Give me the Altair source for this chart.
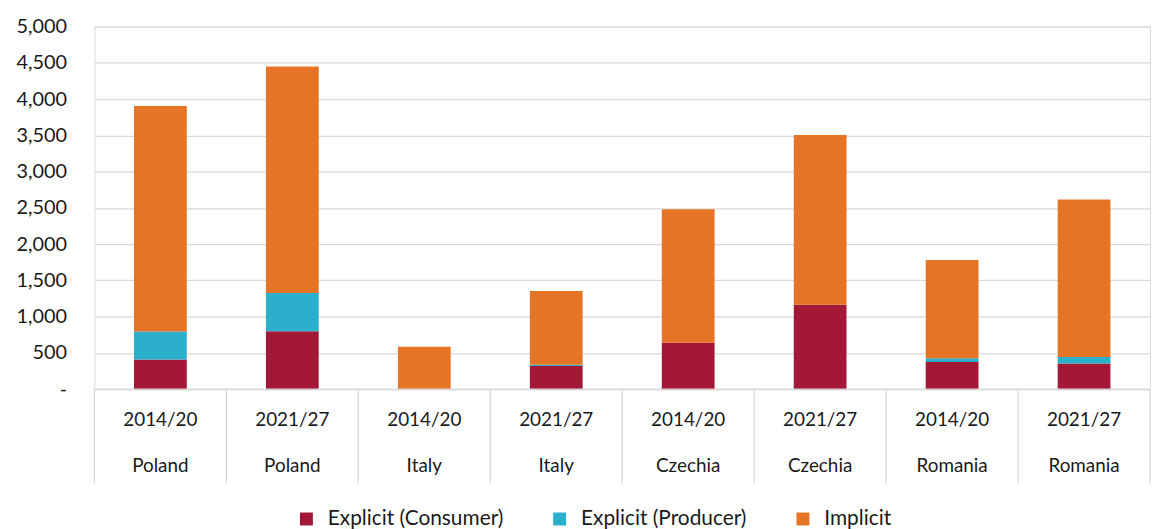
import altair as alt
import pandas as pd

periods = ["2014/20", "2021/27", "2014/20", "2021/27", "2014/20", "2021/27", "2014/20", "2021/27"]
countries = ["Poland", "Poland", "Italy", "Italy", "Czechia", "Czechia", "Romania", "Romania"]
consumer = [410, 800, 0, 320, 640, 1165, 375, 355]
producer = [385, 525, 0, 15, 0, 0, 50, 90]
implicit = [3110, 3125, 585, 1020, 1840, 2340, 1355, 2170]

series_names = ["Explicit (Consumer)", "Explicit (Producer)", "Implicit"]
series_colors = ["#A31837", "#2AB0CB", "#E57427"]

rows = []
for i in range(len(periods)):
    for k, (name, vals) in enumerate(zip(series_names, [consumer, producer, implicit])):
        rows.append({"idx": i, "period": periods[i], "country": countries[i],
                     "series": name, "order": k, "value": vals[i]})
df = pd.DataFrame(rows)

cats = pd.DataFrame({"idx": list(range(len(periods))), "period": periods, "country": countries})
bounds = pd.DataFrame({"b": list(range(len(periods) + 1))})

N = len(periods)
xscale = alt.Scale(domain=[0, N], nice=False, zero=False)
font = "Lato"
txt = "#1a1a1a"

bars = alt.Chart(df).transform_stack(
    stack="value", groupby=["idx"], as_=["y0", "y1"], sort=[alt.SortField("order")]
).transform_calculate(
    xa="datum.idx + 0.3", xb="datum.idx + 0.7"
).mark_rect().encode(
    x=alt.X("xa:Q", scale=xscale, axis=None),
    x2="xb:Q",
    y=alt.Y("y0:Q", scale=alt.Scale(domain=[0, 5000], nice=False),
            axis=alt.Axis(values=list(range(0, 5001, 500)), title=None,
                          labelExpr="datum.value == 0 ? '-' : format(datum.value, ',')",
                          domain=False, ticks=False, grid=True, gridColor="#D9D9D9",
                          gridWidth=1.3, labelFont=font, labelFontSize=20,
                          labelColor=txt, labelPadding=28)),
    y2="y1:Q",
    color=alt.Color("series:N", scale=alt.Scale(domain=series_names, range=series_colors),
                    legend=alt.Legend(title=None, orient="none", direction="horizontal",
                                      legendX=203, legendY=485, symbolType="square",
                                      symbolSize=170, labelFont=font, labelFontSize=21,
                                      labelColor=txt, columnPadding=46, labelLimit=400,
                                      labelOffset=11, symbolStrokeWidth=0)),
)

baseline = alt.Chart(bounds).mark_rule(color="#D9D9D9", strokeWidth=1.3).encode(
    x=alt.value(0), x2=alt.value(1063), y=alt.value(365)
).transform_filter("datum.b == 0")

seps = alt.Chart(bounds).mark_rule(color="#D9D9D9", strokeWidth=1.3).encode(
    x=alt.X("b:Q", scale=xscale, axis=None),
    y=alt.value(365), y2=alt.value(460)
)

t1 = alt.Chart(cats).transform_calculate(xc="datum.idx + 0.5").mark_text(
    font=font, fontSize=19, color=txt, baseline="middle"
).encode(x=alt.X("xc:Q", scale=xscale, axis=None), y=alt.value(396), text="period:N")

t2 = alt.Chart(cats).transform_calculate(xc="datum.idx + 0.5").mark_text(
    font=font, fontSize=19, color=txt, baseline="middle"
).encode(x=alt.X("xc:Q", scale=xscale, axis=None), y=alt.value(442), text="country:N")

chart = alt.layer(bars, baseline, seps, t1, t2).properties(
    width=1063, height=365,
    autosize=alt.AutoSizeParams(type="none"),
    padding={"left": 87, "top": 17, "right": 3, "bottom": 139},
).configure_view(stroke=None).configure(background="white")

chart.save("out.html", embed_options={"renderer": "svg", "actions": False})
